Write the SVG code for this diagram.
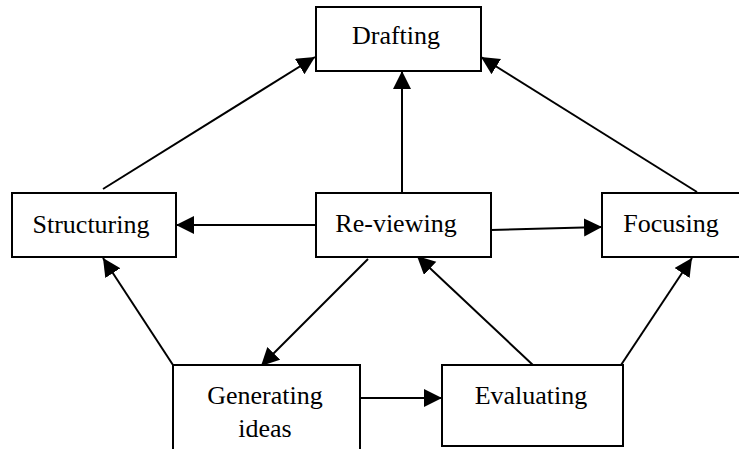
<svg xmlns="http://www.w3.org/2000/svg" width="739" height="449" viewBox="0 0 739 449">
<style>
.box{fill:#fff;stroke:#000;stroke-width:2}
.lbl{font-family:"Liberation Serif","Times New Roman",serif;font-size:26px;fill:#000;text-anchor:middle}
.con{stroke:#000;stroke-width:2;fill:none;marker-end:url(#ah)}
</style>
<defs>
<marker id="ah" markerUnits="userSpaceOnUse" markerWidth="19" markerHeight="19" refX="18" refY="9" orient="auto">
<path d="M0,0 L18,9 L0,18 Z" fill="#000"/>
</marker>
</defs>
<rect width="739" height="449" fill="#fff"/>
<g id="connectors">
<line class="con" x1="103" y1="189" x2="315" y2="57"/>
<line class="con" x1="697" y1="192" x2="481" y2="57"/>
<line class="con" x1="402" y1="193" x2="402" y2="71"/>
<line class="con" x1="316" y1="225" x2="176" y2="225"/>
<line class="con" x1="491" y1="230" x2="602" y2="227"/>
<line class="con" x1="173" y1="365" x2="103" y2="258"/>
<line class="con" x1="368" y1="259" x2="261" y2="366"/>
<line class="con" x1="534" y1="366" x2="417" y2="256"/>
<line class="con" x1="621" y1="365" x2="692" y2="258"/>
<line class="con" x1="360" y1="398" x2="442" y2="398"/>
</g>
<g id="drafting">
<rect class="box" x="316" y="7" width="165" height="64"/>
<text class="lbl" x="396" y="44">Drafting</text>
</g>
<g id="structuring">
<rect class="box" x="12" y="193" width="164" height="64"/>
<text class="lbl" x="91" y="233">Structuring</text>
</g>
<g id="reviewing">
<rect class="box" x="316" y="193" width="175" height="64"/>
<text class="lbl" x="396" y="232">Re-viewing</text>
</g>
<g id="focusing">
<rect class="box" x="602" y="193" width="170" height="64"/>
<text class="lbl" x="671" y="232">Focusing</text>
</g>
<g id="generating">
<rect class="box" x="173" y="365" width="187" height="110"/>
<text class="lbl" x="265" y="404">Generating</text>
<text class="lbl" x="265" y="437">ideas</text>
</g>
<g id="evaluating">
<rect class="box" x="442" y="365" width="181" height="81"/>
<text class="lbl" x="531" y="404">Evaluating</text>
</g>
</svg>
